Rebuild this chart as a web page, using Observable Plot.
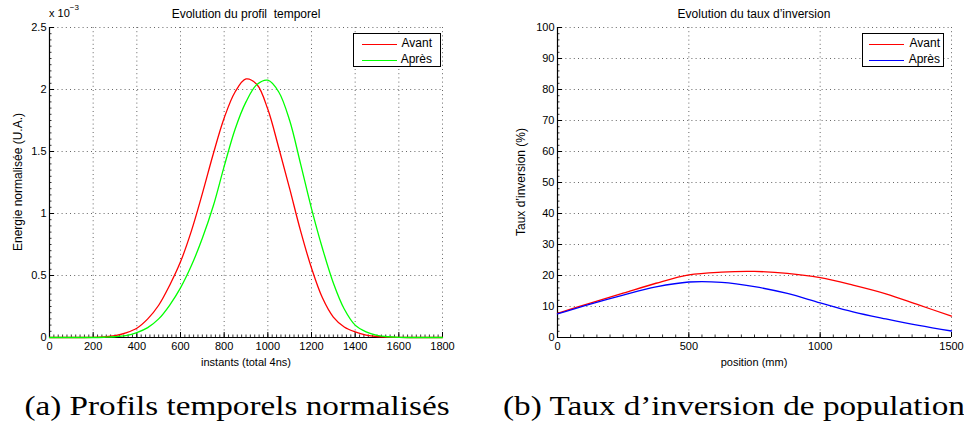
<!DOCTYPE html>
<html><head><meta charset="utf-8">
<script src="https://cdn.jsdelivr.net/npm/d3@7"></script>
<script src="https://cdn.jsdelivr.net/npm/@observablehq/plot@0.6"></script>
<style>
body{margin:0;background:#fff;}
#root{position:relative;width:964px;height:429px;overflow:hidden;font-family:"Liberation Sans",Arial,sans-serif;color:#000;}
.abs{position:absolute;white-space:nowrap;line-height:1;}
.title{font-size:12px;transform:translateX(-50%);}
.xlab{font-size:11px;transform:translateX(-50%);}
.ylab{font-size:12px;transform:translate(-50%,-50%) rotate(-90deg);}
.legend{border:1px solid #000;background:#fff;box-sizing:border-box;font-size:12px;}
.legend .row{position:absolute;left:0;right:0;height:14px;}
.legend .sw{position:absolute;height:0;border-top:1.3px solid;}
.legend .tx{position:absolute;}
.cap{font-family:"Liberation Serif","DejaVu Serif",serif;font-size:27px;transform:translateX(-50%) scaleX(1.23);}
.svgwrap{position:absolute;top:0;}
</style></head><body><div id="root"></div>
<script>
// ---------- data : chart (a) ----------
const instants = [0,50,100,150,200,250,300,350,400,450,500,550,600,650,700,750,800,850,900,950,1000,1050,1100,1150,1200,1250,1300,1350,1400,1450,1500,1550,1600,1650,1700,1750,1800];
// energy, in units of 1e-3 (U.A.)
const energieAvant = [0,0,0,0,0.001,0.005,0.015,0.038,0.075,0.15,0.26,0.42,0.61,0.86,1.16,1.48,1.77,1.98,2.085,2.04,1.84,1.53,1.20,0.86,0.56,0.32,0.165,0.085,0.045,0.02,0.008,0.003,0.001,0,0,0,0];
const energieApres = [0,0,0,0,0,0.002,0.006,0.016,0.04,0.08,0.15,0.26,0.40,0.58,0.80,1.06,1.38,1.68,1.90,2.04,2.075,1.98,1.75,1.40,1.04,0.72,0.44,0.23,0.10,0.045,0.018,0.006,0.001,0,0,0,0];
const xTicksA = [0,200,400,600,800,1000,1200,1400,1600,1800];
const yTicksA = [0,0.5,1,1.5,2,2.5];
// ---------- data : chart (b) ----------
const positions = [0,125,250,375,500,625,750,875,1000,1125,1250,1375,1500];
const tauxAvant = [7.8,11.1,14.3,17.5,20.2,21.1,21.3,20.7,19.3,16.9,14.1,10.5,6.9];
const tauxApres = [7.6,10.8,13.7,16.3,17.9,17.8,16.4,14.2,11.2,8.3,6.0,3.9,2.1];
const xTicksB = [0,500,1000,1500];
const yTicksB = [0,10,20,30,40,50,60,70,80,90,100];
// ---------- texts ----------
const titles = ["Evolution du profil\u00a0 temporel","Evolution du taux d\u2019inversion"];
const xLabels = ["instants (total 4ns)","position (mm)"];
const yLabels = ["Energie normalisée (U.A.)","Taux d\u2019inversion (%)"];
const legendNames = ["Avant","Après"];
const captions = ["(a) Profils temporels normalisés","(b) Taux d\u2019inversion de population"];

const W = 482, H = 380, MT = 27, MB = 43;
const FONT = '"Liberation Sans", Arial, sans-serif';

function minorTicks(domain, step){
  const out=[]; for(let v=domain[0]; v<=domain[1]+1e-9; v+=step) out.push(+v.toFixed(6)); return out;
}

function chart({xDomain,yDomain,xTicks,yTicks,xMinorStep,yMinorStep,series,mLeft,mRight}){
  const ih = H-MT-MB, iw = W-mLeft-mRight;
  const grid = {stroke:"#333", strokeOpacity:0.75, strokeDasharray:"1,3.2", strokeWidth:1};
  const fmt = d=>String(d);
  const marks = [
    Plot.gridX(xTicks.slice(1), grid),
    Plot.gridY(yTicks.slice(1), grid),
    Plot.tickX(minorTicks(xDomain,xMinorStep), {x:d=>d, insetTop:ih-2.5, stroke:"#000", strokeWidth:0.8}),
    Plot.tickX(xTicks, {x:d=>d, insetTop:ih-5, stroke:"#000"}),
    Plot.tickY(minorTicks(yDomain,yMinorStep), {y:d=>d, insetRight:iw-2.5, stroke:"#000", strokeWidth:0.8}),
    Plot.tickY(yTicks, {y:d=>d, insetRight:iw-5, stroke:"#000"}),
    Plot.axisX(xTicks, {tickSize:0, tickPadding:5, label:null, fontSize:11, tickFormat:fmt}),
    Plot.axisY(yTicks, {tickSize:0, tickPadding:3, label:null, fontSize:11, tickFormat:fmt}),
    Plot.ruleX([xDomain[0]], {stroke:"#000", strokeWidth:1.2}),
    Plot.ruleY([yDomain[0]], {stroke:"#000", strokeWidth:1.2})
  ];
  for(const s of series){
    marks.push(Plot.line(s.y, {x:s.x, y:d=>d, stroke:s.color, strokeWidth:1.3, curve:"catmull-rom"}));
  }
  return Plot.plot({
    width:W, height:H, marginTop:MT, marginBottom:MB, marginLeft:mLeft, marginRight:mRight,
    style:{fontFamily:FONT, fontSize:"11px", color:"#000", background:"transparent", overflow:"visible"},
    x:{domain:xDomain}, y:{domain:yDomain},
    marks
  });
}

const root = document.getElementById("root");
function addDiv(cls, html, css){
  const d=document.createElement("div"); d.className="abs "+cls; d.innerHTML=html;
  Object.assign(d.style, css); root.appendChild(d); return d;
}

const chartA = chart({
  xDomain:[0,1800], yDomain:[0,2.5], xTicks:xTicksA, yTicks:yTicksA,
  xMinorStep:20, yMinorStep:0.05, mLeft:49, mRight:40,
  series:[{x:instants,y:energieAvant,color:"#ff0000"},{x:instants,y:energieApres,color:"#00ff00"}]
});
const chartB = chart({
  xDomain:[0,1500], yDomain:[0,100], xTicks:xTicksB, yTicks:yTicksB,
  xMinorStep:50, yMinorStep:2, mLeft:75, mRight:13,
  series:[{x:positions,y:tauxAvant,color:"#ff0000"},{x:positions,y:tauxApres,color:"#0000ff"}]
});
const wa=document.createElement("div"); wa.className="svgwrap"; wa.style.left="0px"; wa.appendChild(chartA); root.appendChild(wa);
const wb=document.createElement("div"); wb.className="svgwrap"; wb.style.left="482px"; wb.appendChild(chartB); root.appendChild(wb);

// titles
addDiv("title", titles[0], {left:"246px", top:"8px"});
addDiv("title", titles[1], {left:"754px", top:"8px"});
// multiplier
addDiv("", 'x 10<sup style="font-size:8px;position:relative;top:-2px">\u22123</sup>', {left:"49px", top:"6px", fontSize:"11px"});
// axis labels
addDiv("xlab", xLabels[0], {left:"246px", top:"357px"});
addDiv("xlab", xLabels[1], {left:"754px", top:"357px"});
addDiv("ylab", yLabels[0], {left:"18px", top:"182px"});
addDiv("ylab", yLabels[1], {left:"521px", top:"182px"});

// legends
function legend(left, top, width, colors, lineLeft, textRight){
  const box = addDiv("legend", "", {left:left+"px", top:top+"px", width:width+"px", height:"34px"});
  legendNames.forEach((n,i)=>{
    const r=document.createElement("div"); r.className="row"; r.style.top=(3+i*15.5)+"px";
    const sw=document.createElement("div"); sw.className="sw"; sw.style.left=lineLeft+"px"; sw.style.width="35px"; sw.style.top="7px"; sw.style.borderColor=colors[i];
    const t=document.createElement("div"); t.className="tx"; t.textContent=n; t.style.top="0px"; t.style.right=textRight+"px";
    r.appendChild(sw); r.appendChild(t); box.appendChild(r);
  });
}
legend(353, 33, 88, ["#ff0000","#00ff00"], 8, 8);
legend(862, 33, 82, ["#ff0000","#0000ff"], 6, 3);

// captions
addDiv("cap", captions[0], {left:"237px", top:"393px"});
addDiv("cap", captions[1], {left:"734px", top:"393px"});
</script>
</body></html>
